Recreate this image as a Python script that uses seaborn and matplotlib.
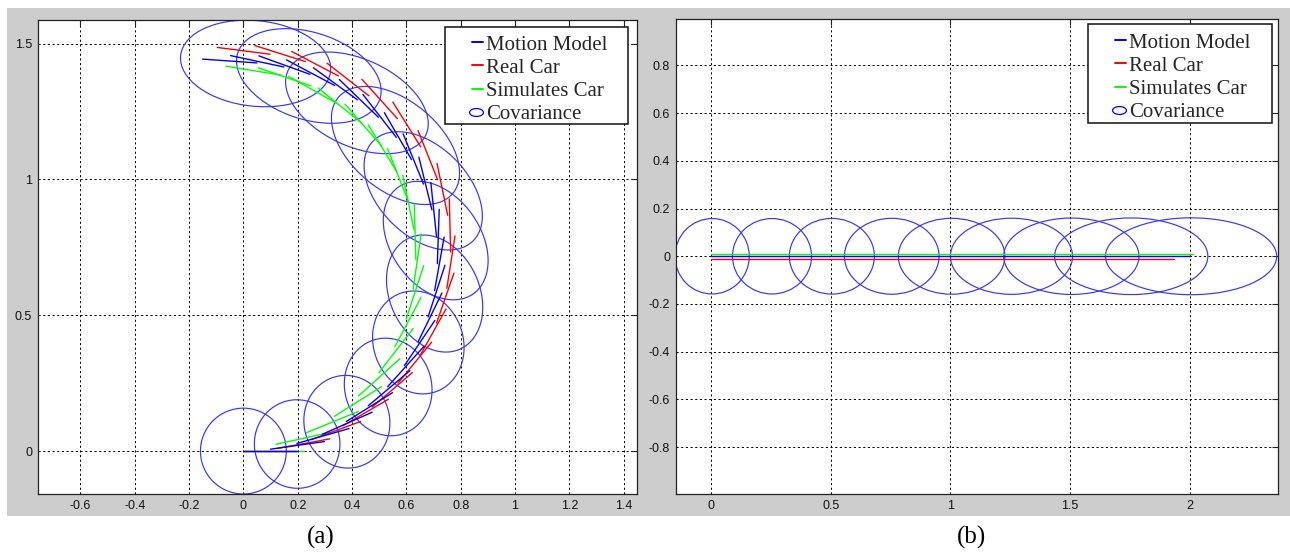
import numpy as np
import pandas as pd
import seaborn as sns
import matplotlib
matplotlib.use("Agg")
import matplotlib.pyplot as plt
from matplotlib.patches import Ellipse, Rectangle
from matplotlib.lines import Line2D
from matplotlib.path import Path
from matplotlib.transforms import Affine2D
from matplotlib.legend_handler import HandlerLine2D

# ---- panel (a): curved run ----
# short prediction segments, start (x0, y0) -> end (x1, y1)
blue_x0 = [0.000, 0.100, 0.197, 0.291, 0.379, 0.460, 0.531, 0.593, 0.643, 0.680, 0.704, 0.714,
           0.711, 0.694, 0.663, 0.619, 0.563, 0.497, 0.420, 0.336, 0.245, 0.149, 0.050]
blue_y0 = [0.000, 0.007, 0.028, 0.062, 0.109, 0.167, 0.237, 0.315, 0.402, 0.494, 0.591, 0.690,
           0.790, 0.888, 0.983, 1.073, 1.155, 1.229, 1.293, 1.346, 1.387, 1.414, 1.429]
blue_x1 = [0.200, 0.298, 0.389, 0.474, 0.549, 0.613, 0.665, 0.705, 0.731, 0.742, 0.739, 0.721,
           0.690, 0.646, 0.588, 0.519, 0.440, 0.353, 0.258, 0.159, 0.057, -0.047, -0.150]
blue_y1 = [0.000, 0.035, 0.083, 0.143, 0.215, 0.296, 0.386, 0.481, 0.582, 0.684, 0.788, 0.890,
           0.989, 1.082, 1.168, 1.246, 1.313, 1.368, 1.411, 1.440, 1.455, 1.456, 1.443]

red_x0 = [0.000, 0.126, 0.249, 0.366, 0.474, 0.569, 0.651, 0.711, 0.749, 0.763, 0.752, 0.715,
          0.653, 0.567, 0.462, 0.350, 0.228, 0.098]
red_y0 = [0.000, 0.010, 0.042, 0.093, 0.162, 0.250, 0.353, 0.471, 0.599, 0.733, 0.868, 0.999,
          1.120, 1.224, 1.308, 1.381, 1.434, 1.461]
red_x1 = [0.195, 0.318, 0.432, 0.534, 0.622, 0.693, 0.746, 0.775, 0.779, 0.758, 0.713, 0.643,
          0.550, 0.436, 0.308, 0.178, 0.042, -0.096]
red_y1 = [0.000, 0.045, 0.109, 0.191, 0.289, 0.401, 0.523, 0.655, 0.792, 0.928, 1.059, 1.180,
          1.285, 1.369, 1.428, 1.471, 1.493, 1.486]

green_x0 = [0.000, 0.120, 0.233, 0.335, 0.424, 0.499, 0.558, 0.600, 0.625, 0.635, 0.628, 0.606,
            0.566, 0.509, 0.435, 0.346, 0.249, 0.139]
green_y0 = [0.000, 0.025, 0.068, 0.128, 0.203, 0.289, 0.385, 0.488, 0.596, 0.705, 0.815, 0.922,
            1.026, 1.123, 1.208, 1.279, 1.344, 1.384]
green_x1 = [0.220, 0.321, 0.423, 0.508, 0.576, 0.625, 0.654, 0.664, 0.654, 0.629, 0.587, 0.531,
            0.460, 0.374, 0.275, 0.167, 0.055, -0.064]
green_y1 = [0.000, 0.069, 0.146, 0.237, 0.340, 0.451, 0.566, 0.683, 0.799, 0.910, 1.015, 1.113,
            1.201, 1.277, 1.337, 1.379, 1.411, 1.417]

# covariance ellipses (centre, major, minor, angle in degrees)
cov_a_x = [0.000, 0.198, 0.381, 0.533, 0.644, 0.704, 0.708, 0.662, 0.560, 0.418, 0.241, 0.045]
cov_a_y = [0.000, 0.026, 0.108, 0.236, 0.400, 0.580, 0.775, 0.958, 1.125, 1.282, 1.381, 1.427]
cov_a_major = [0.316, 0.326, 0.342, 0.362, 0.385, 0.450, 0.480, 0.520, 0.550, 0.560, 0.550, 0.555]
cov_a_minor = [0.316, 0.315, 0.316, 0.320, 0.330, 0.330, 0.330, 0.330, 0.330, 0.320, 0.320, 0.315]
cov_a_angle = [-90, -85, -80, -75, -70, -65, -55, -45, -40, -25, -18, -6]

# ---- panel (b): straight run ----
b_blue_x = [0.0, 2.0]
b_blue_y = [0.0, 0.0]
b_red_x = [0.0, 1.935]
b_red_y = [-0.011, -0.011]
b_green_x = [0.0, 2.015]
b_green_y = [0.009, 0.009]

cov_b_x = [0.005, 0.255, 0.505, 0.755, 1.005, 1.255, 1.505, 1.755, 2.005]
cov_b_w = [0.310, 0.330, 0.355, 0.395, 0.445, 0.510, 0.565, 0.640, 0.715]
cov_b_h = [0.316, 0.316, 0.317, 0.318, 0.318, 0.319, 0.320, 0.321, 0.322]

# axes ticks
a_xticks = [-0.6, -0.4, -0.2, 0, 0.2, 0.4, 0.6, 0.8, 1, 1.2, 1.4]
a_yticks = [0, 0.5, 1, 1.5]
b_xticks = [0, 0.5, 1, 1.5, 2]
b_yticks = [-0.8, -0.6, -0.4, -0.2, 0, 0.2, 0.4, 0.6, 0.8]

names = ["Motion Model", "Real Car", "Simulates Car"]
colors = {"Motion Model": "#0000ff", "Real Car": "#ff0000", "Simulates Car": "#00ff00"}
ell_color = "#3535ff"


def seg_frame(name, x0, y0, x1, y1):
    rows = []
    for i in range(len(x0)):
        rows.append((name, i, x0[i], y0[i]))
        rows.append((name, i, x1[i], y1[i]))
    return pd.DataFrame(rows, columns=["series", "seg", "x", "y"])


df_a = pd.concat([
    seg_frame("Simulates Car", green_x0, green_y0, green_x1, green_y1),
    seg_frame("Real Car", red_x0, red_y0, red_x1, red_y1),
    seg_frame("Motion Model", blue_x0, blue_y0, blue_x1, blue_y1),
], ignore_index=True)

df_b = pd.concat([
    pd.DataFrame({"series": "Simulates Car", "seg": 0, "x": b_green_x, "y": b_green_y}),
    pd.DataFrame({"series": "Real Car", "seg": 0, "x": b_red_x, "y": b_red_y}),
    pd.DataFrame({"series": "Motion Model", "seg": 0, "x": b_blue_x, "y": b_blue_y}),
], ignore_index=True)

sns.set_theme(style="white")
plt.rcParams["font.family"] = ["Liberation Sans", "DejaVu Sans"]
plt.rcParams["axes.unicode_minus"] = False

W, H = 1290, 553
fig = plt.figure(figsize=(W / 100, H / 100), dpi=100, facecolor="white")
fig.add_artist(Rectangle((7 / W, 1 - 516 / H), (W - 7) / W, (516 - 8) / H,
                         transform=fig.transFigure, facecolor="#cdcdcd",
                         edgecolor="none", zorder=-10))

axA = fig.add_axes([38 / W, 1 - 494 / H, 599 / W, 474 / H])
axB = fig.add_axes([676 / W, 1 - 494 / H, 602 / W, 475 / H])

sns.lineplot(data=df_a, x="x", y="y", hue="series", units="seg", estimator=None, sort=False,
             palette=colors, linewidth=1.0, legend=False, ax=axA, zorder=3)
sns.lineplot(data=df_b, x="x", y="y", hue="series", units="seg", estimator=None, sort=False,
             palette=colors, linewidth=1.0, legend=False, ax=axB, zorder=3)

for i in range(len(cov_a_x)):
    axA.add_patch(Ellipse((cov_a_x[i], cov_a_y[i]), width=cov_a_major[i], height=cov_a_minor[i],
                          angle=cov_a_angle[i], fill=False, edgecolor=ell_color, lw=0.85, zorder=2))
for i in range(len(cov_b_x)):
    axB.add_patch(Ellipse((cov_b_x[i], 0.0), width=cov_b_w[i], height=cov_b_h[i],
                          fill=False, edgecolor=ell_color, lw=0.85, zorder=2))

axA.set_xlim(-0.756, 1.449)
axA.set_ylim(-0.158, 1.587)
axB.set_xlim(-0.146, 2.368)
axB.set_ylim(-0.996, 0.994)

for ax, xt, yt in [(axA, a_xticks, a_yticks), (axB, b_xticks, b_yticks)]:
    ax.set_facecolor("white")
    ax.set_xticks(xt)
    ax.set_yticks(yt)
    ax.set_xticklabels([f"{v:g}" for v in xt])
    ax.set_yticklabels([f"{v:g}" for v in yt])
    ax.set_xlabel("")
    ax.set_ylabel("")
    ax.grid(True, color="black", linestyle=(0, (2.2, 2.6)), linewidth=0.7)
    ax.set_axisbelow(True)
    ax.tick_params(axis="both", direction="in", length=4, width=0.8, top=True, right=True,
                   labelsize=9, pad=4.3, color="#222222", labelcolor="#111111")
    for sp in ax.spines.values():
        sp.set_visible(True)
        sp.set_color("#222222")
        sp.set_linewidth(0.9)

# legends
ell_marker = Path.unit_circle().transformed(Affine2D().scale(1.0, 0.57))
leg_boxes = [(axA, 445, 27, 628, 124, 449, 35), (axB, 1088, 24, 1272, 123, 1092, 33)]
for ax, bx0, by0, bx1, by1, lx, ly in leg_boxes:
    handles = [Line2D([], [], color=colors[n], lw=1.4) for n in names]
    cov_h = Line2D([], [], ls="none", marker=ell_marker, markersize=10, markerfacecolor="none",
                   markeredgecolor="#0000ff", markeredgewidth=0.9)
    hmap = {h: HandlerLine2D(xpad=1.12) for h in handles}
    hmap[cov_h] = HandlerLine2D(xpad=0.95)
    ax.add_patch(Rectangle((bx0 / W, 1 - by1 / H), (bx1 - bx0) / W, (by1 - by0) / H,
                           transform=fig.transFigure, facecolor="white", edgecolor="#111111",
                           lw=1.1, zorder=4.8, clip_on=False))
    leg = ax.legend(handles + [cov_h], names + ["Covariance"], handler_map=hmap,
                    loc="upper left", bbox_to_anchor=(lx / W, 1 - ly / H),
                    bbox_transform=fig.transFigure, frameon=False, borderpad=0,
                    borderaxespad=0, handlelength=1.62, handletextpad=0.15,
                    labelspacing=0.17, prop={"family": "Liberation Serif", "size": 15})
    leg.set_zorder(5)

fig.text(321 / W, 1 - 537 / H, "(a)", ha="center", va="center", fontsize=18,
         family="Liberation Serif", color="black")
fig.text(971 / W, 1 - 537 / H, "(b)", ha="center", va="center", fontsize=18,
         family="Liberation Serif", color="black")

fig.savefig("out.png", dpi=100, facecolor="white")
